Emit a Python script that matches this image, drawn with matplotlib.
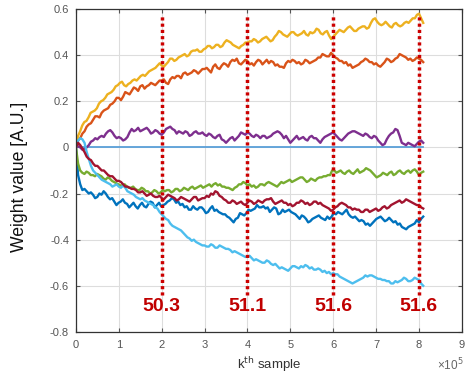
import numpy as np
import matplotlib
matplotlib.use("Agg")
import matplotlib.pyplot as plt
from matplotlib.ticker import FixedLocator, FuncFormatter

plt.rcParams['font.family'] = ['Liberation Sans', 'DejaVu Sans']

# traces run from sample 0 to sample 8.1e5 (points evenly spaced)
k_start, k_end = 0.0, 8.1e5

w_zero = [0.0, 0.0]

w_blue = [0.00, -0.12, -0.16, -0.185, -0.18, -0.19, -0.20, -0.195, -0.205, -0.22, -0.215, -0.2, -0.205, -0.19, -0.20, -0.215,
          -0.225, -0.22, -0.235, -0.25, -0.24, -0.235, -0.225, -0.24, -0.245, -0.26, -0.25, -0.24, -0.255, -0.265, -0.25, -0.24,
          -0.255, -0.26, -0.245, -0.235, -0.24, -0.26, -0.25, -0.24, -0.255, -0.25, -0.245, -0.235, -0.23, -0.22, -0.225, -0.24,
          -0.235, -0.25, -0.245, -0.26, -0.255, -0.27, -0.27, -0.255, -0.265, -0.27, -0.26, -0.26, -0.27, -0.285, -0.28, -0.265,
          -0.255, -0.275, -0.27, -0.28, -0.285, -0.29, -0.29, -0.3, -0.305, -0.315, -0.325, -0.31, -0.305, -0.285, -0.29, -0.295,
          -0.285, -0.27, -0.275, -0.27, -0.265, -0.25, -0.26, -0.26, -0.255, -0.265, -0.26, -0.28, -0.27, -0.26, -0.265, -0.29,
          -0.285, -0.27, -0.28, -0.275, -0.27, -0.28, -0.285, -0.29, -0.30, -0.31, -0.295, -0.30, -0.31, -0.325, -0.32, -0.31,
          -0.305, -0.3, -0.295, -0.305, -0.31, -0.315, -0.30, -0.31, -0.30, -0.285, -0.29, -0.28, -0.285, -0.29, -0.28, -0.27,
          -0.29, -0.30, -0.305, -0.30, -0.31, -0.32, -0.315, -0.32, -0.335, -0.33, -0.34, -0.33, -0.32, -0.31, -0.305, -0.3,
          -0.31, -0.32, -0.315, -0.305, -0.315, -0.325, -0.32, -0.335, -0.33, -0.345, -0.35, -0.355, -0.345, -0.34, -0.335, -0.33,
          -0.315, -0.325, -0.31, -0.30]

w_orange = [0.00, 0.03, 0.04, 0.06, 0.07, 0.09, 0.10, 0.105, 0.12, 0.135, 0.135, 0.13, 0.15, 0.16, 0.165, 0.17,
            0.185, 0.19, 0.20, 0.215, 0.215, 0.205, 0.22, 0.24, 0.235, 0.23, 0.245, 0.26, 0.255, 0.245, 0.265, 0.27,
            0.255, 0.265, 0.27, 0.28, 0.275, 0.27, 0.28, 0.29, 0.29, 0.295, 0.28, 0.275, 0.295, 0.305, 0.30, 0.31,
            0.31, 0.30, 0.32, 0.325, 0.315, 0.32, 0.325, 0.335, 0.33, 0.32, 0.33, 0.34, 0.34, 0.345, 0.335, 0.325,
            0.35, 0.36, 0.345, 0.34, 0.355, 0.365, 0.36, 0.35, 0.37, 0.38, 0.375, 0.385, 0.365, 0.36, 0.37, 0.38,
            0.375, 0.36, 0.365, 0.355, 0.37, 0.38, 0.375, 0.36, 0.37, 0.38, 0.365, 0.375, 0.37, 0.355, 0.36, 0.35,
            0.35, 0.345, 0.365, 0.375, 0.37, 0.38, 0.375, 0.365, 0.37, 0.36, 0.365, 0.38, 0.375, 0.365, 0.37, 0.375,
            0.38, 0.39, 0.39, 0.405, 0.40, 0.395, 0.395, 0.41, 0.40, 0.39, 0.385, 0.375, 0.375, 0.365, 0.37, 0.355,
            0.36, 0.345, 0.35, 0.355, 0.36, 0.37, 0.375, 0.385, 0.38, 0.37, 0.37, 0.36, 0.365, 0.355, 0.35, 0.36,
            0.37, 0.385, 0.38, 0.37, 0.375, 0.385, 0.39, 0.405, 0.40, 0.395, 0.39, 0.38, 0.385, 0.375, 0.38, 0.39,
            0.385, 0.38, 0.37]

w_yellow = [0.00, 0.05, 0.07, 0.095, 0.11, 0.115, 0.13, 0.15, 0.155, 0.16, 0.17, 0.19, 0.20, 0.205, 0.215, 0.23,
            0.235, 0.24, 0.25, 0.265, 0.27, 0.28, 0.285, 0.27, 0.265, 0.275, 0.28, 0.29, 0.295, 0.29, 0.30, 0.31,
            0.315, 0.31, 0.32, 0.33, 0.335, 0.34, 0.345, 0.355, 0.365, 0.355, 0.35, 0.36, 0.37, 0.385, 0.385, 0.375,
            0.38, 0.39, 0.395, 0.40, 0.405, 0.395, 0.40, 0.415, 0.42, 0.42, 0.425, 0.415, 0.415, 0.425, 0.43, 0.44,
            0.44, 0.43, 0.435, 0.445, 0.445, 0.435, 0.44, 0.455, 0.465, 0.46, 0.455, 0.445, 0.44, 0.435, 0.43, 0.44,
            0.445, 0.455, 0.455, 0.46, 0.46, 0.47, 0.465, 0.455, 0.46, 0.47, 0.475, 0.48, 0.47, 0.46, 0.465, 0.48,
            0.49, 0.505, 0.50, 0.49, 0.485, 0.48, 0.49, 0.50, 0.50, 0.49, 0.485, 0.49, 0.495, 0.505, 0.49, 0.485,
            0.50, 0.495, 0.50, 0.515, 0.51, 0.495, 0.49, 0.50, 0.505, 0.485, 0.47, 0.48, 0.49, 0.50, 0.51, 0.505,
            0.50, 0.51, 0.52, 0.525, 0.515, 0.505, 0.505, 0.515, 0.52, 0.525, 0.525, 0.515, 0.52, 0.54, 0.555, 0.56,
            0.545, 0.535, 0.53, 0.535, 0.545, 0.535, 0.525, 0.52, 0.535, 0.54, 0.53, 0.525, 0.53, 0.54, 0.545, 0.54,
            0.55, 0.56, 0.56, 0.575, 0.58, 0.56, 0.54]

w_purple = [0.00, 0.005, 0.00, -0.01, -0.005, 0.00, 0.01, 0.025, 0.03, 0.04, 0.035, 0.045, 0.05, 0.045, 0.06, 0.07,
            0.075, 0.065, 0.05, 0.04, 0.045, 0.04, 0.03, 0.035, 0.045, 0.065, 0.08, 0.07, 0.075, 0.085, 0.07, 0.075,
            0.08, 0.085, 0.075, 0.06, 0.065, 0.075, 0.07, 0.06, 0.055, 0.065, 0.08, 0.085, 0.09, 0.08, 0.075, 0.06,
            0.07, 0.065, 0.06, 0.07, 0.065, 0.05, 0.055, 0.065, 0.07, 0.06, 0.06, 0.065, 0.055, 0.05, 0.06, 0.055,
            0.045, 0.04, 0.05, 0.055, 0.035, 0.03, 0.02, 0.03, 0.04, 0.045, 0.03, 0.04, 0.05, 0.065, 0.06, 0.055,
            0.065, 0.06, 0.05, 0.045, 0.055, 0.05, 0.04, 0.05, 0.05, 0.04, 0.045, 0.05, 0.06, 0.065, 0.07, 0.065,
            0.055, 0.04, 0.05, 0.035, 0.02, 0.03, 0.04, 0.05, 0.035, 0.04, 0.045, 0.035, 0.03, 0.045, 0.05, 0.04,
            0.04, 0.03, 0.02, 0.035, 0.045, 0.05, 0.055, 0.06, 0.065, 0.055, 0.045, 0.035, 0.03, 0.04, 0.05, 0.06,
            0.065, 0.07, 0.07, 0.065, 0.06, 0.055, 0.05, 0.06, 0.055, 0.045, 0.04, 0.05, 0.045, 0.03, 0.02, 0.01,
            0.015, 0.035, 0.05, 0.06, 0.065, 0.08, 0.075, 0.05, 0.02, 0.015, 0.01, 0.02, 0.015, 0.01, 0.005, 0.015,
            0.025, 0.03, 0.02]

w_green = [0.00, -0.07, -0.10, -0.11, -0.115, -0.105, -0.11, -0.12, -0.12, -0.125, -0.115, -0.12, -0.125, -0.135, -0.14, -0.13,
           -0.135, -0.145, -0.15, -0.155, -0.16, -0.165, -0.165, -0.16, -0.17, -0.175, -0.175, -0.17, -0.18, -0.185, -0.185, -0.175,
           -0.18, -0.19, -0.19, -0.2, -0.195, -0.185, -0.19, -0.2, -0.195, -0.185, -0.19, -0.185, -0.185, -0.195, -0.19, -0.18,
           -0.18, -0.19, -0.185, -0.175, -0.18, -0.185, -0.175, -0.17, -0.18, -0.175, -0.17, -0.165, -0.175, -0.17, -0.165, -0.16,
           -0.17, -0.16, -0.155, -0.165, -0.16, -0.17, -0.17, -0.175, -0.175, -0.18, -0.185, -0.175, -0.17, -0.16, -0.16, -0.15,
           -0.155, -0.165, -0.16, -0.17, -0.165, -0.175, -0.17, -0.16, -0.16, -0.165, -0.155, -0.15, -0.155, -0.16, -0.165, -0.17,
           -0.16, -0.15, -0.155, -0.15, -0.145, -0.14, -0.15, -0.145, -0.14, -0.135, -0.13, -0.13, -0.14, -0.15, -0.145, -0.135,
           -0.14, -0.145, -0.135, -0.13, -0.13, -0.125, -0.125, -0.12, -0.12, -0.1, -0.10, -0.11, -0.105, -0.1, -0.11, -0.115,
           -0.105, -0.1, -0.11, -0.115, -0.105, -0.095, -0.11, -0.105, -0.10, -0.09, -0.095, -0.1, -0.11, -0.12, -0.13, -0.125,
           -0.12, -0.11, -0.115, -0.12, -0.11, -0.105, -0.12, -0.115, -0.105, -0.1, -0.11, -0.115, -0.105, -0.1, -0.11, -0.1,
           -0.095, -0.105, -0.12, -0.11, -0.105]

w_lightblue = [0.00, 0.03, 0.04, 0.035, 0.02, -0.02, -0.05, -0.08, -0.10, -0.11, -0.12, -0.13, -0.14, -0.145, -0.15, -0.155,
               -0.16, -0.17, -0.165, -0.16, -0.17, -0.175, -0.165, -0.175, -0.19, -0.195, -0.20, -0.205, -0.215, -0.22, -0.225, -0.22,
               -0.23, -0.235, -0.24, -0.245, -0.25, -0.26, -0.265, -0.28, -0.29, -0.3, -0.31, -0.315, -0.33, -0.34, -0.345, -0.35,
               -0.355, -0.36, -0.37, -0.38, -0.39, -0.395, -0.405, -0.40, -0.41, -0.415, -0.42, -0.425, -0.425, -0.43, -0.43, -0.42,
               -0.425, -0.435, -0.435, -0.425, -0.43, -0.435, -0.44, -0.44, -0.445, -0.455, -0.45, -0.455, -0.46, -0.465, -0.47, -0.475,
               -0.475, -0.47, -0.48, -0.49, -0.485, -0.49, -0.495, -0.5, -0.50, -0.49, -0.495, -0.505, -0.51, -0.505, -0.515, -0.525,
               -0.52, -0.525, -0.53, -0.535, -0.525, -0.515, -0.515, -0.52, -0.525, -0.515, -0.52, -0.51, -0.515, -0.525, -0.52, -0.53,
               -0.53, -0.525, -0.53, -0.54, -0.535, -0.545, -0.54, -0.55, -0.545, -0.55, -0.55, -0.56, -0.565, -0.57, -0.575, -0.58,
               -0.585, -0.59, -0.585, -0.58, -0.575, -0.57, -0.565, -0.555, -0.56, -0.555, -0.555, -0.56, -0.565, -0.57, -0.57, -0.575,
               -0.575, -0.58, -0.58, -0.59, -0.59, -0.58, -0.585, -0.58, -0.575, -0.565, -0.57, -0.58, -0.58, -0.575, -0.565, -0.57,
               -0.575, -0.59, -0.60]

w_darkred = [0.00, 0.02, 0.01, -0.005, -0.02, -0.04, -0.05, -0.055, -0.07, -0.08, -0.08, -0.09, -0.10, -0.1, -0.11, -0.12,
             -0.125, -0.125, -0.135, -0.145, -0.145, -0.15, -0.16, -0.17, -0.17, -0.175, -0.18, -0.18, -0.185, -0.195, -0.195, -0.19,
             -0.2, -0.21, -0.205, -0.2, -0.21, -0.215, -0.215, -0.21, -0.22, -0.225, -0.215, -0.205, -0.21, -0.215, -0.22, -0.23,
             -0.225, -0.215, -0.22, -0.225, -0.23, -0.235, -0.225, -0.215, -0.215, -0.23, -0.225, -0.22, -0.22, -0.21, -0.215, -0.2,
             -0.205, -0.19, -0.195, -0.21, -0.215, -0.225, -0.23, -0.24, -0.24, -0.23, -0.235, -0.245, -0.24, -0.235, -0.245, -0.25,
             -0.24, -0.23, -0.235, -0.245, -0.24, -0.23, -0.235, -0.24, -0.23, -0.225, -0.225, -0.22, -0.235, -0.245, -0.24, -0.235,
             -0.23, -0.24, -0.24, -0.25, -0.245, -0.255, -0.25, -0.24, -0.24, -0.23, -0.235, -0.245, -0.24, -0.25, -0.245, -0.235,
             -0.235, -0.245, -0.24, -0.25, -0.255, -0.26, -0.265, -0.275, -0.27, -0.26, -0.255, -0.245, -0.24, -0.245, -0.25, -0.26,
             -0.26, -0.27, -0.265, -0.27, -0.27, -0.28, -0.28, -0.27, -0.27, -0.28, -0.275, -0.27, -0.265, -0.275, -0.27, -0.26,
             -0.255, -0.265, -0.26, -0.25, -0.245, -0.24, -0.235, -0.23, -0.24, -0.235, -0.225, -0.23, -0.235, -0.24, -0.245, -0.25,
             -0.25, -0.26, -0.265]

marker_k = [2e5, 4e5, 6e5, 8e5]
marker_labels = ["50.3", "51.1", "51.6", "51.6"]

x_ticks = [0, 1, 2, 3, 4, 5, 6, 7, 8, 9]
y_ticks = [-0.8, -0.6, -0.4, -0.2, 0, 0.2, 0.4, 0.6]

fig = plt.figure(figsize=(4.66, 3.78), dpi=100)
ax = fig.add_axes([0.163, 0.122, 0.828, 0.854])


def xs(vals):
    return np.linspace(k_start, k_end, len(vals))


ax.plot(xs(w_zero), w_zero, color='#5A9FD8', lw=1.3)
series = [(w_blue, '#0072BD'), (w_orange, '#D95319'), (w_yellow, '#EDB120'),
          (w_purple, '#7E2F8E'), (w_green, '#77AC30'), (w_lightblue, '#4DBEEE'),
          (w_darkred, '#A2142F')]
for vals, c in series:
    ax.plot(xs(vals), vals, color=c, lw=1.7)

for kx, lab in zip(marker_k, marker_labels):
    ax.plot([kx, kx], [-0.64, 0.58], color='#CC0000', lw=2.5,
            linestyle=(0, (0.9, 0.9)), zorder=5)
    ax.text(kx, -0.69, lab, color='#C00000', fontsize=14, fontweight='bold',
            ha='center', va='center', zorder=6)

ax.set_xlim(0, 9e5)
ax.set_ylim(-0.8, 0.6)
ax.xaxis.set_major_locator(FixedLocator([t * 1e5 for t in x_ticks]))
ax.xaxis.set_major_formatter(FuncFormatter(lambda v, p: f"{v/1e5:g}"))
ax.set_yticks(y_ticks)
ax.yaxis.set_major_formatter(FuncFormatter(lambda v, p: f"{v:g}"))

ax.grid(True, color='#DDDDDD', lw=0.8)
ax.set_axisbelow(True)
ax.tick_params(direction='in', length=3, colors='#555555', labelsize=8,
               top=True, right=True, labeltop=False, labelright=False)
ax.tick_params(axis='x', pad=6)
ax.tick_params(axis='y', pad=5)
for sp in ax.spines.values():
    sp.set_color('#333333')
    sp.set_linewidth(0.9)

fig.text(0.041, 0.532, "Weight value [A.U.]", rotation=90, fontsize=12.7,
         ha='center', va='center', color='#111111')
fig.text(0.578, 0.035, "k$^{\\mathrm{th}}$ sample", fontsize=9.5,
         ha='center', va='center', color='#333333')
fig.text(0.938, 0.035, "\u00d710$^{5}$", fontsize=8.5,
         ha='left', va='center', color='#666666')

fig.savefig("out.png", dpi=100)
